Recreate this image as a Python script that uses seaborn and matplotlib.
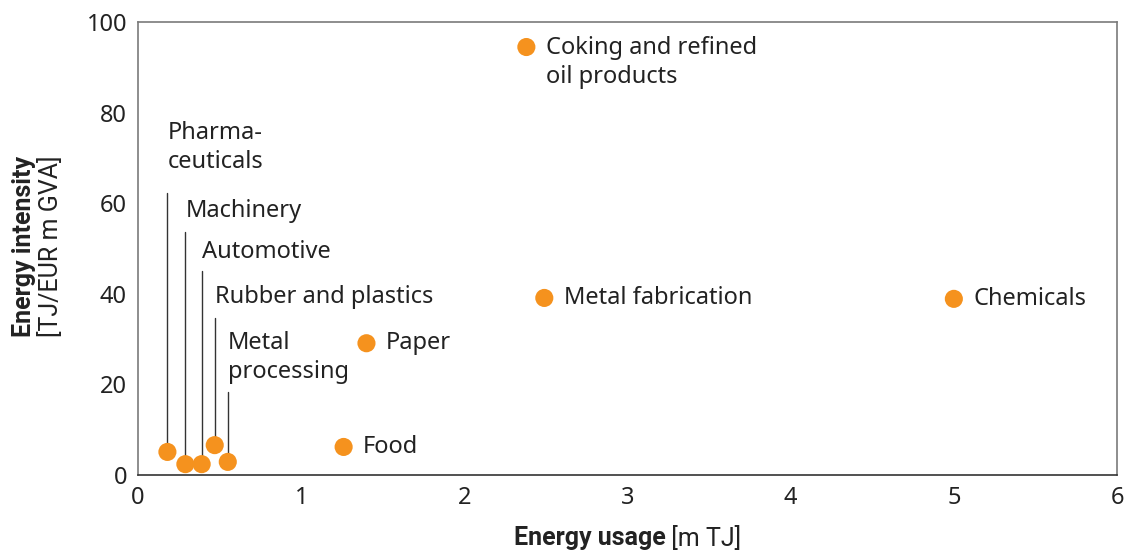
#!/usr/bin/env python3

import pandas as pd
import matplotlib.pyplot as plt
import seaborn as sns

sectors = ["Pharma-\nceuticals", "Machinery", "Automotive", "Rubber and plastics",
           "Metal\nprocessing", "Food", "Paper", "Metal fabrication",
           "Chemicals", "Coking and refined\noil products"]
usage = [0.18, 0.29, 0.39, 0.47, 0.55, 1.26, 1.40, 2.49, 5.00, 2.38]
intensity = [5.1, 2.4, 2.4, 6.6, 2.9, 6.2, 29.1, 39.1, 38.9, 94.5]

# small sectors get a label above with a vertical leader line
leader_top = {"Pharma-\nceuticals": 62.3, "Machinery": 53.6, "Automotive": 45.0,
              "Rubber and plastics": 34.7, "Metal\nprocessing": 18.3}
label_center = {"Pharma-\nceuticals": 72.3, "Machinery": 58.3, "Automotive": 49.2,
                "Rubber and plastics": 39.3, "Metal\nprocessing": 26.0}

df = pd.DataFrame({"sector": sectors, "usage": usage, "intensity": intensity})

sns.set_theme(style="white")
plt.rcParams["font.family"] = ["Noto Sans", "DejaVu Sans"]

ORANGE = "#F5921E"
TXT = "#222222"
LBL = ["Roboto", "DejaVu Sans"]

fig = plt.figure(figsize=(11.25, 5.53), dpi=100)
ax = fig.add_axes([0.1227, 0.141, 0.8702, 0.819])

sns.scatterplot(data=df, x="usage", y="intensity", color=ORANGE, s=170,
                edgecolor="none", ax=ax, zorder=3)

FS = 17
for _, r in df.iterrows():
    name = r["sector"]
    if name in leader_top:
        ax.plot([r["usage"], r["usage"]], [r["intensity"] + 1.6, leader_top[name]],
                color="#333333", lw=1.0, zorder=2)
        ax.annotate(name, (r["usage"], label_center[name]), xytext=(0, 0),
                    textcoords="offset points", ha="left", va="center",
                    fontsize=FS, color=TXT, linespacing=1.3)
    elif "\n" in name:
        ax.annotate(name, (r["usage"], r["intensity"]), xytext=(14, 8),
                    textcoords="offset points", ha="left", va="top",
                    fontsize=FS, color=TXT, linespacing=1.3)
    else:
        ax.annotate(name, (r["usage"], r["intensity"]), xytext=(14, 0),
                    textcoords="offset points", ha="left", va="center",
                    fontsize=FS, color=TXT)

ax.set_xlim(0, 6)
ax.set_ylim(0, 100)
ax.set_xticks(range(0, 7))
ax.set_yticks(range(0, 101, 20))
ax.tick_params(length=0, labelsize=17, labelcolor=TXT, pad=8)
for sp in ax.spines.values():
    sp.set_visible(True)
    sp.set_color("#7a7a7a")
    sp.set_linewidth(1.2)
ax.spines["bottom"].set_color("#333333")
ax.set_xlabel("")
ax.set_ylabel("")

# axis titles: bold part + regular part
fig.canvas.draw()
rend = fig.canvas.get_renderer()
xb = fig.text(0, 0.027, "Energy usage", fontsize=18, fontweight="bold", color=TXT,
              va="center", ha="left", family=LBL)
xr = fig.text(0, 0.027, " [m TJ]", fontsize=18, color=TXT, va="center", ha="left",
              family=LBL)
wb = xb.get_window_extent(rend).width / fig.bbox.width
wr = xr.get_window_extent(rend).width / fig.bbox.width
x0 = 0.5578 - (wb + wr) / 2
xb.set_x(x0)
xr.set_x(x0 + wb)

fig.text(0.021, 0.555, "Energy intensity", rotation=90, fontsize=18,
         fontweight="bold", color=TXT, ha="center", va="center", family=LBL)
fig.text(0.045, 0.555, "[TJ/EUR m GVA]", rotation=90, fontsize=18,
         color=TXT, ha="center", va="center", family=LBL)

fig.savefig("out.png", dpi=100)
